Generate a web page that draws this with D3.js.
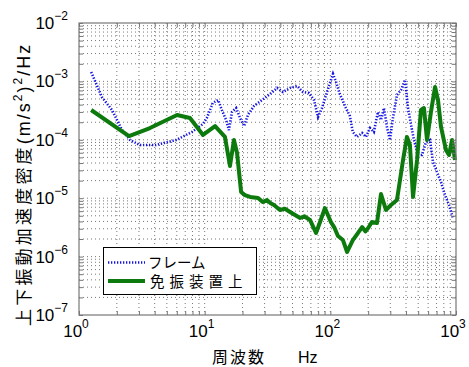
<!DOCTYPE html>
<html><head><meta charset="utf-8">
<script src="https://cdn.jsdelivr.net/npm/d3@7"></script>
<style>
body{margin:0;background:#fff;}
svg{display:block;}
text{font-family:"Liberation Sans",Arial,sans-serif;fill:#000;}
.jp{font-family:"Noto Sans CJK JP","Liberation Sans",sans-serif;}
</style></head>
<body>
<svg id="c" width="469" height="367"></svg>
<script>
// ---- data ----
const frameFreq = [1.25,1.52,1.83,2.2,2.55,3.06,4.1,5.91,7.93,9.7,10.4,11.6,12.8,13.7,14.8,15.6,16.5,17.8,19.1,20.6,22.1,24.7,28.6,33.1,37.7,42.0,47.8,54.3,60.6,67.6,74.1,79.8,85.9,92.4,105,111,119,133,143,151,163,179,192,207,222,239,253,267,283,298,315,339,365,393,415,439,463,499,536,577,621,656,706,760,817,880,946];
const frameVal = [1.45e-3,5.41e-4,3.24e-4,1.47e-4,9.9e-5,8.14e-5,8.14e-5,9.9e-5,1.36e-4,1.87e-4,2.36e-4,4.27e-4,4.8e-4,3.24e-4,2.18e-4,1.47e-4,3.0e-4,3.5e-4,2.36e-4,1.72e-4,2.66e-4,3.79e-4,4.8e-4,6.08e-4,7.71e-4,6.58e-4,7.71e-4,8.34e-4,6.58e-4,6.32e-4,4.8e-4,2.46e-4,3.5e-4,5.85e-4,1.34e-3,9.77e-4,6.08e-4,3.5e-4,2.56e-4,1.36e-4,1.12e-4,1.31e-4,1.12e-4,1.59e-4,1.36e-4,3.0e-4,2.18e-4,3.5e-4,1.59e-4,9.9e-5,2.36e-4,5.85e-4,7.13e-4,1.06e-3,3.5e-4,1.79e-4,9.9e-5,5.5e-5,5.5e-5,9.16e-5,9.9e-5,4.17e-5,2.81e-5,1.89e-5,1.13e-5,7.65e-6,4.58e-6];
const isoFreq = [1.25,2.5,3.67,6.03,7.64,9.7,12.1,14.5,15.9,17.1,18.1,19.5,20.9,23.0,26.6,29.0,31.3,33.5,35.6,39.7,43.5,47.8,52.0,57.4,62.0,68.9,76.9,82.8,90.6,101,108,115,126,136,151,166,179,190,200,214,235,253,277,304,339,379,407,430,455,490,526,556,588,632,681,719,760,832,880,930,982];
const isoVal = [3.24e-4,1.16e-4,1.59e-4,2.66e-4,2.36e-4,1.21e-4,1.72e-4,1.12e-4,3.56e-5,9.9e-5,5.94e-5,1.28e-5,1.13e-5,1.05e-5,1.01e-5,8.6e-6,9.3e-6,8.2e-6,7.65e-6,6.29e-6,6.6e-6,5.81e-6,5.2e-6,4.58e-6,4.9e-6,4.24e-6,2.54e-6,3.91e-6,6.79e-6,3.91e-6,3.1e-6,2.25e-6,1.92e-6,1.2e-6,1.92e-6,2.54e-6,3.21e-6,2.7e-6,3.09e-6,3.91e-6,3.76e-6,1.18e-5,6.29e-6,7.65e-6,9.3e-6,4.51e-5,1.12e-4,8.14e-5,1.05e-5,4.51e-5,3.24e-4,3.5e-4,9.9e-5,3.0e-4,8.0e-4,4.8e-4,1.66e-4,6.68e-5,5.5e-5,9.9e-5,4.51e-5];
const xTickExp = [0,1,2,3];
const yTickExp = [-2,-3,-4,-5,-6,-7];
const seriesNames = ["フレーム","免振装置上"];
const xTitle = "周波数";
const xUnit = "Hz";

// ---- layout ----
const svg = d3.select("#c");
const L=79, R=456, T=23, B=315;
const x = d3.scaleLog().domain([1,1000]).range([L,R]);
const y = d3.scaleLog().domain([1e-7,1e-2]).range([B,T]);

// grid
const g = svg.append("g");
const minorX=[], minorY=[];
for(let e=0;e<3;e++) for(let m=1;m<10;m++) minorX.push(m*Math.pow(10,e));
for(let e=-7;e<-2;e++) for(let m=1;m<10;m++) minorY.push(m*Math.pow(10,e));
g.selectAll(".gx").data(minorX.filter(v=>v>1)).enter().append("line")
 .attr("x1",d=>x(d)).attr("x2",d=>x(d)).attr("y1",T).attr("y2",B)
 .attr("stroke","#555").attr("stroke-width",0.8).attr("stroke-dasharray","1,3");
g.selectAll(".gy").data(minorY.filter(v=>v>1e-7)).enter().append("line")
 .attr("y1",d=>y(d)).attr("y2",d=>y(d)).attr("x1",L).attr("x2",R)
 .attr("stroke","#555").attr("stroke-width",0.8).attr("stroke-dasharray","1,3");

// lines
const line = d3.line().x(d=>x(d[0])).y(d=>y(d[1]));
svg.append("path").datum(frameFreq.map((f,i)=>[f,frameVal[i]]))
 .attr("d",line).attr("fill","none").attr("stroke","#1414e6").attr("stroke-width",2.6)
 .attr("stroke-dasharray","1.3,1.7");
svg.append("path").datum(isoFreq.map((f,i)=>[f,isoVal[i]]))
 .attr("d",line).attr("fill","none").attr("stroke","#0d7a0d").attr("stroke-width",4)
 .attr("stroke-linejoin","round");

// axes box + ticks
svg.append("rect").attr("x",L).attr("y",T).attr("width",R-L).attr("height",B-T)
 .attr("fill","none").attr("stroke","#777").attr("stroke-width",1.2);
const xAxB = d3.axisBottom(x).tickValues(minorX.concat([1000])).tickSize(-4).tickFormat("");
svg.append("g").attr("transform",`translate(0,${B})`).call(xAxB)
 .call(s=>{s.select(".domain").remove(); s.selectAll("line").attr("stroke","#777");});
const xAxT = d3.axisTop(x).tickValues(minorX.concat([1000])).tickSize(-4).tickFormat("");
svg.append("g").attr("transform",`translate(0,${T})`).call(xAxT)
 .call(s=>{s.select(".domain").remove(); s.selectAll("line").attr("stroke","#777");});
const yAxL = d3.axisLeft(y).tickValues(minorY.concat([1e-2])).tickSize(-4).tickFormat("");
svg.append("g").attr("transform",`translate(${L},0)`).call(yAxL)
 .call(s=>{s.select(".domain").remove(); s.selectAll("line").attr("stroke","#777");});
const yAxR = d3.axisRight(y).tickValues(minorY.concat([1e-2])).tickSize(-4).tickFormat("");
svg.append("g").attr("transform",`translate(${R},0)`).call(yAxR)
 .call(s=>{s.select(".domain").remove(); s.selectAll("line").attr("stroke","#777");});

// y tick labels
yTickExp.forEach(e=>{
  const t = svg.append("text").attr("x",68).attr("y",y(Math.pow(10,e))+6)
    .attr("text-anchor","end").attr("font-size",17);
  t.append("tspan").text("10");
  t.append("tspan").attr("font-size",12).attr("dy",-9).text(e<0?"\u2212"+(-e):e);
});
// x tick labels
xTickExp.forEach(e=>{
  const t = svg.append("text").attr("x",x(Math.pow(10,e))-3).attr("y",337)
    .attr("text-anchor","middle").attr("font-size",17);
  t.append("tspan").text("10");
  t.append("tspan").attr("font-size",12).attr("dy",-9).text(e);
});

// x title
svg.append("text").attr("class","jp").attr("x",212).attr("y",363).attr("font-size",16)
  .attr("letter-spacing",2).text(xTitle);
svg.append("text").attr("x",298).attr("y",363).attr("font-size",16).text(xUnit);

// y title
const yt = svg.append("text").attr("transform","translate(30,326) rotate(-90)")
  .attr("font-size",17);
yt.append("tspan").attr("class","jp").attr("letter-spacing",3.2).text("上下振動加速度密度");
yt.append("tspan").attr("letter-spacing",2).attr("font-size",18).text("(m/s");
yt.append("tspan").attr("font-size",12).attr("dy",-8).attr("letter-spacing",2).text("2");
yt.append("tspan").attr("dy",8).attr("font-size",18).attr("letter-spacing",2).text(")");
yt.append("tspan").attr("font-size",12).attr("dy",-8).attr("letter-spacing",2).text("2");
yt.append("tspan").attr("dy",8).attr("font-size",18).attr("letter-spacing",2).text("/Hz");

// legend
const lg = svg.append("g");
lg.append("rect").attr("x",103.5).attr("y",247.5).attr("width",153).attr("height",47)
  .attr("fill","#fff").attr("stroke","#000").attr("stroke-width",1);
lg.append("line").attr("x1",108).attr("x2",145).attr("y1",262.5).attr("y2",262.5)
  .attr("stroke","#1414e6").attr("stroke-width",2.6).attr("stroke-dasharray","1.3,1.7");
lg.append("line").attr("x1",108).attr("x2",145).attr("y1",281).attr("y2",281)
  .attr("stroke","#0d7a0d").attr("stroke-width",4);
lg.append("text").attr("class","jp").attr("x",148).attr("y",267.5).attr("font-size",14.5)
  .text(seriesNames[0]);
lg.append("text").attr("class","jp").attr("x",150).attr("y",287).attr("font-size",14.5)
  .attr("letter-spacing",5).text(seriesNames[1]);
</script>
</body></html>
